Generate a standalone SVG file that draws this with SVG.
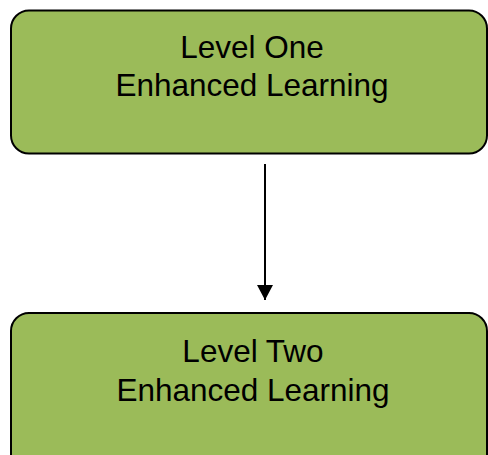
<svg xmlns="http://www.w3.org/2000/svg" width="488" height="455" viewBox="0 0 488 455">
  <style>
    .box { fill: #9BBB59; stroke: #000000; stroke-width: 2; }
    .label { font-family: "Liberation Sans", Arial, sans-serif; font-size: 31.5px; fill: #000000; text-anchor: middle; }
    .conn { stroke: #000000; stroke-width: 2; fill: none; }
  </style>
  <defs>
    <marker id="arrow" markerUnits="userSpaceOnUse" markerWidth="16" markerHeight="16" refX="15" refY="8" orient="auto">
      <path d="M0,0 L15,8 L0,16 Z" fill="#000000"/>
    </marker>
  </defs>
  <rect width="488" height="455" fill="#ffffff"/>
  <g id="level-one">
    <rect class="box" x="11" y="10.5" width="476" height="143" rx="18" ry="18"/>
    <text class="label" x="252" y="58">Level One</text>
    <text class="label" x="252" y="95.5">Enhanced Learning</text>
  </g>
  <g id="level-two">
    <rect class="box" x="11" y="313" width="476" height="160" rx="18" ry="18"/>
    <text class="label" x="253" y="362">Level Two</text>
    <text class="label" x="253" y="400.5">Enhanced Learning</text>
  </g>
  <g id="connectors">
    <line class="conn" x1="265" y1="164" x2="265" y2="300" marker-end="url(#arrow)"/>
  </g>
</svg>
